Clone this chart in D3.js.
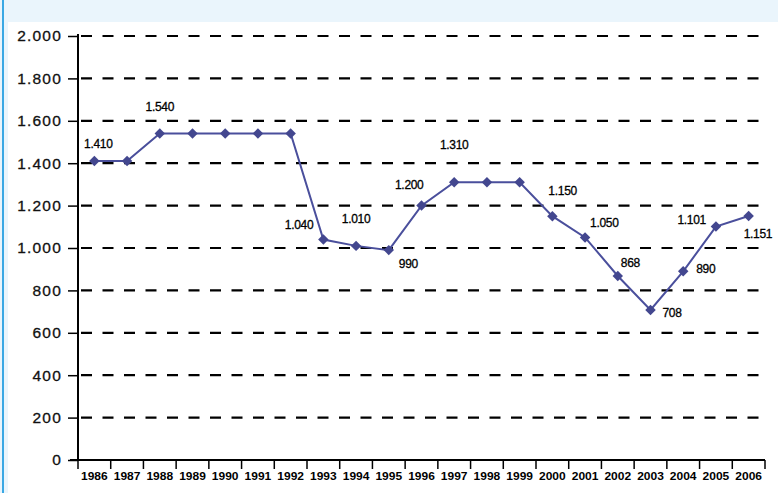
<!DOCTYPE html>
<html>
<head>
<meta charset="utf-8">
<script src="https://cdn.jsdelivr.net/npm/d3@7"></script>
<style>
  body { margin: 0; background: #eaf5fc; }
  svg { display: block; }
</style>
</head>
<body>
<svg id="chart"></svg>
<script>
const years = ["1986", "1987", "1988", "1989", "1990", "1991", "1992", "1993", "1994", "1995", "1996",
               "1997", "1998", "1999", "2000", "2001", "2002", "2003", "2004", "2005", "2006"];
const values = [1410, 1410, 1540, 1540, 1540, 1540, 1540, 1040, 1010, 990, 1200,
                1310, 1310, 1310, 1150, 1050, 868, 708, 890, 1101, 1151];
// which points carry a value label
const labelled = [0, 2, 7, 8, 9, 10, 11, 14, 15, 16, 17, 18, 19, 20];
const yTicks = [0, 200, 400, 600, 800, 1000, 1200, 1400, 1600, 1800, 2000];

// label placement relative to the point (dx, dy, anchor)
const labelPos = {
    0: [4, -17, "middle"], 2: [0, -27, "middle"], 7: [-10, -15, "end"], 8: [0, -27, "middle"],
    9: [10, 14, "start"], 10: [2, -21, "end"], 11: [0, -37, "middle"], 14: [-4, -25, "start"],
    15: [5, -14, "start"], 16: [3, -13, "start"], 17: [12, 3, "start"], 18: [13, -2, "start"],
    19: [-10, -7, "end"], 20: [-5, 18, "start"]
};

const width = 778, height = 493;
const svg = d3.select("#chart").attr("width", width).attr("height", height);

svg.append("rect").attr("width", width).attr("height", height).attr("fill", "#eaf5fc");
svg.append("rect").attr("x", 8).attr("y", 22).attr("width", width - 8).attr("height", height - 22)
    .attr("fill", "#ffffff");
svg.append("line").attr("x1", 3).attr("x2", 3).attr("y1", 0).attr("y2", height)
    .attr("stroke", "#3aa8e4").attr("stroke-width", 2);

const mLeft = 78, mRight = 765, mTop = 36, mBottom = 460;

const x = d3.scaleBand().domain(years).range([mLeft, mRight]);
const y = d3.scaleLinear().domain([0, 2000]).range([mBottom, mTop]);

const loc = d3.formatLocale({ decimal: ",", thousands: ".", grouping: [3], currency: ["", ""] });
const fmt = loc.format(",d");

// dashed gridlines
svg.append("g").selectAll("line")
    .data(yTicks.filter(d => d > 0))
    .join("line")
    .attr("x1", mLeft + 3).attr("x2", mRight - 3)
    .attr("y1", d => y(d)).attr("y2", d => y(d))
    .attr("stroke", "#000").attr("stroke-width", 2.2)
    .attr("stroke-dasharray", "11,10.5");

// y axis
const yAxis = svg.append("g")
    .attr("transform", `translate(${mLeft},0)`)
    .call(d3.axisLeft(y).tickValues(yTicks).tickFormat(fmt).tickSize(10).tickPadding(6));
yAxis.select(".domain").attr("stroke-width", 2).attr("d", `M0,${mBottom}V${mTop - 2}`);
yAxis.selectAll(".tick line").attr("stroke-width", 1.5);
yAxis.selectAll("text")
    .attr("font-family", "Liberation Sans, Arial, sans-serif")
    .attr("font-size", 15.5).attr("letter-spacing", "1.2px").attr("fill", "#111")
    .attr("stroke", "#111").attr("stroke-width", 0.3);

// x axis with ticks on category boundaries
const xg = svg.append("g");
xg.append("line").attr("x1", mLeft - 8).attr("x2", mRight)
    .attr("y1", mBottom).attr("y2", mBottom).attr("stroke", "#000").attr("stroke-width", 2);
xg.selectAll(".xt")
    .data(years.concat(["end"]))
    .join("line")
    .attr("x1", (d, i) => mLeft + i * x.bandwidth())
    .attr("x2", (d, i) => mLeft + i * x.bandwidth())
    .attr("y1", mBottom).attr("y2", mBottom + 9)
    .attr("stroke", "#000").attr("stroke-width", 1.5);
xg.selectAll("text")
    .data(years)
    .join("text")
    .attr("x", d => x(d) + x.bandwidth() / 2)
    .attr("y", mBottom + 20)
    .attr("text-anchor", "middle")
    .attr("font-family", "Liberation Sans Narrow, Liberation Sans, Arial, sans-serif")
    .attr("font-size", 11).attr("font-weight", "bold")
    .attr("textLength", x.bandwidth() - 6).attr("lengthAdjust", "spacingAndGlyphs")
    .text(d => d);

// line and markers
const cx = i => x(years[i]) + x.bandwidth() / 2;
const line = d3.line().x((d, i) => cx(i)).y(d => y(d));

svg.append("path").datum(values)
    .attr("d", line).attr("fill", "none")
    .attr("stroke", "#4a4f9c").attr("stroke-width", 2);

svg.append("g").selectAll("path")
    .data(values)
    .join("path")
    .attr("transform", (d, i) => `translate(${cx(i)},${y(d)})`)
    .attr("d", d3.symbol(d3.symbolDiamond2, 70))
    .attr("fill", "#43478f");

// value labels
svg.append("g").selectAll("text")
    .data(labelled)
    .join("text")
    .attr("x", i => cx(i) + labelPos[i][0])
    .attr("y", i => y(values[i]) + labelPos[i][1] + 4)
    .attr("text-anchor", i => labelPos[i][2])
    .attr("font-family", "Liberation Sans, Arial, sans-serif")
    .attr("font-size", 12).attr("letter-spacing", "-0.3px").attr("fill", "#000")
    .attr("stroke", "#000").attr("stroke-width", 0.3)
    .text(i => fmt(values[i]));
</script>
</body>
</html>
